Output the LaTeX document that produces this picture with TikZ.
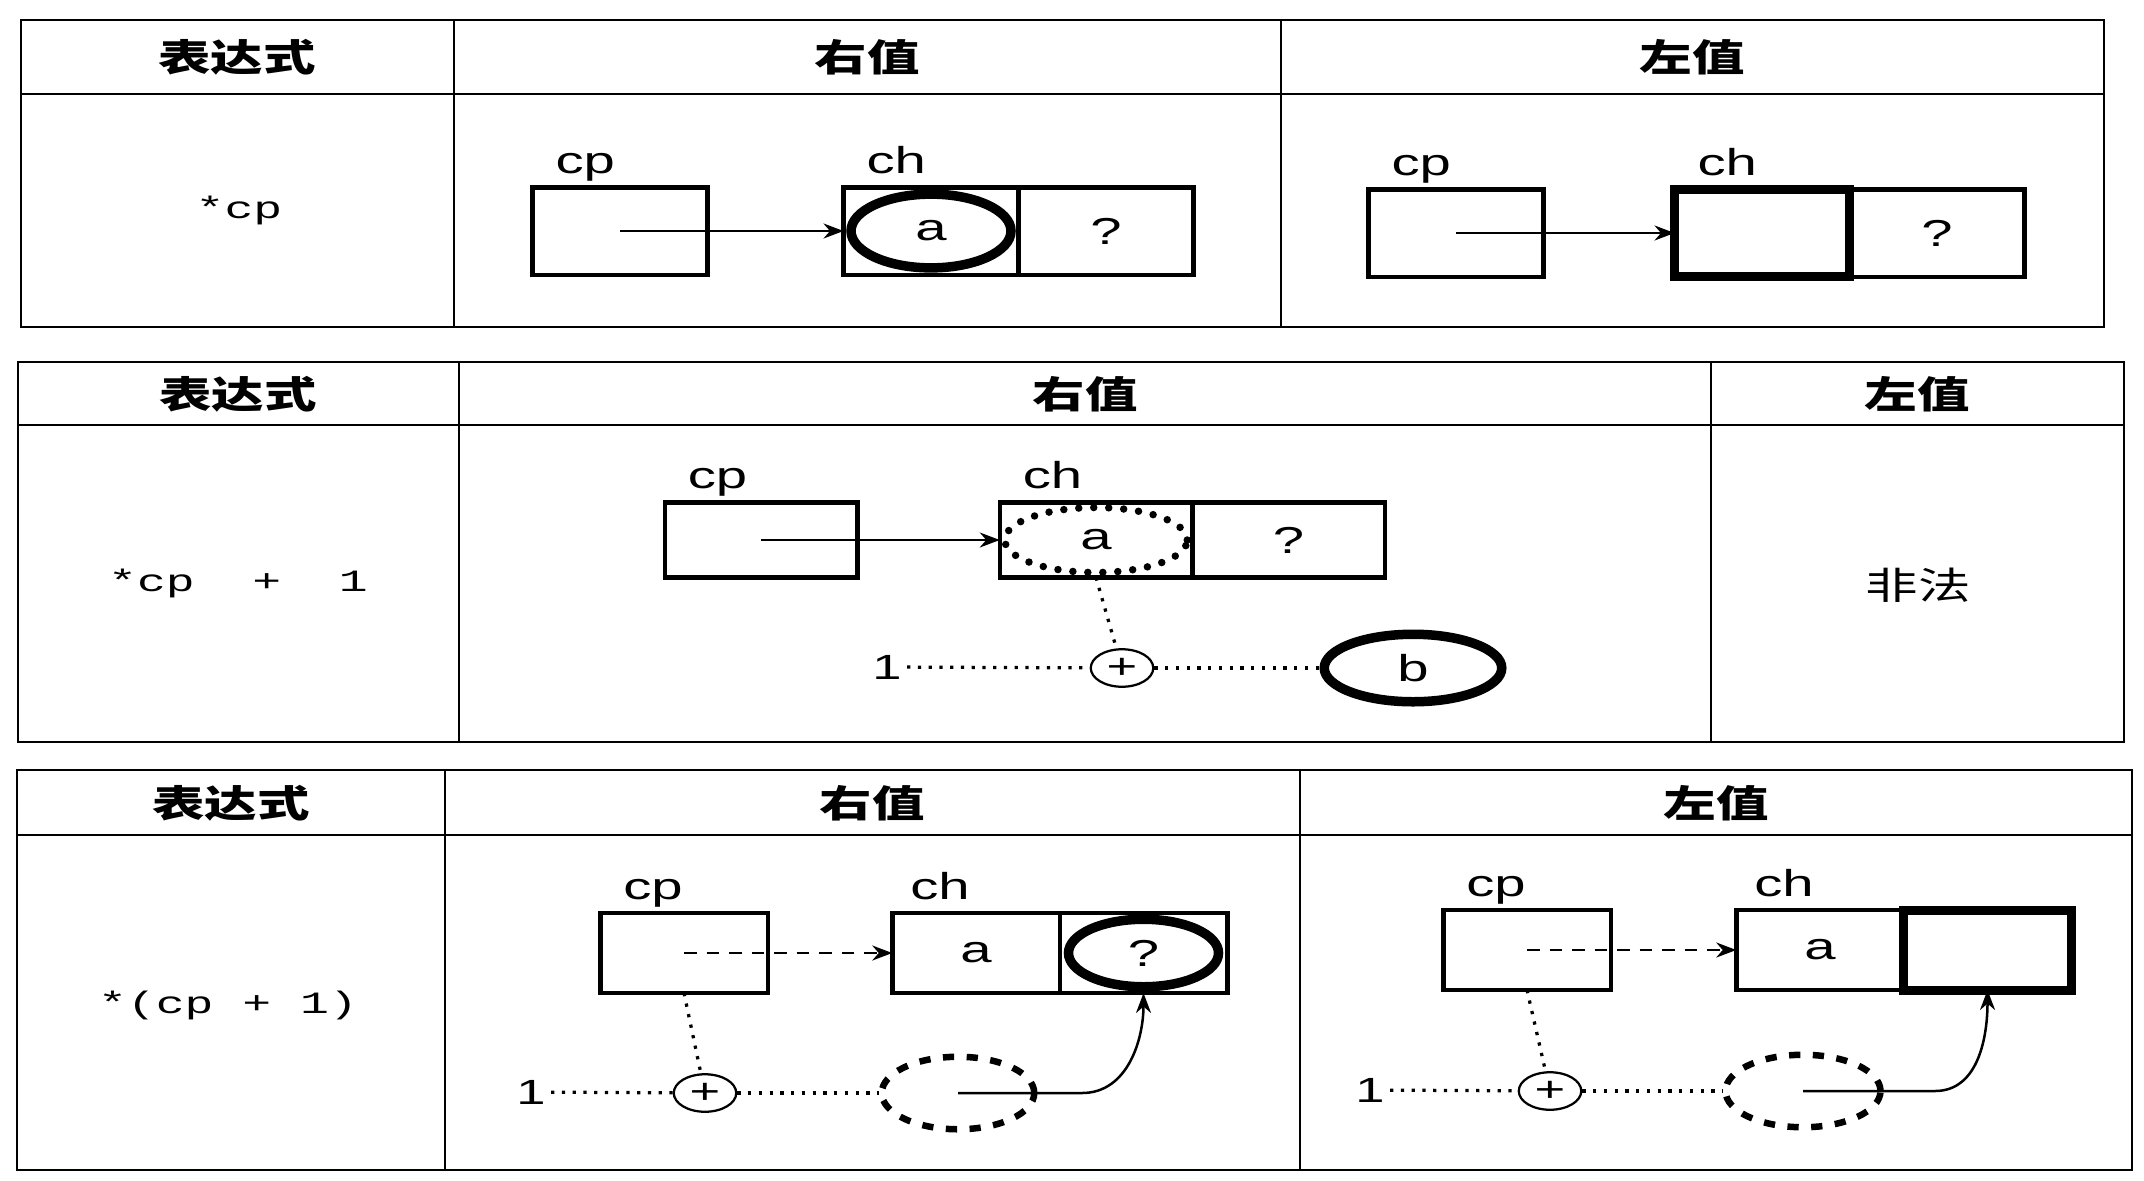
\documentclass[tikz,border=0pt]{standalone}
\usepackage{fontspec}
\setsansfont[FakeStretch=1.5]{Liberation Sans}
\setmonofont[FakeStretch=1.55]{Liberation Mono}
\newfontfamily\cjk[FakeStretch=1.4]{Noto Sans CJK SC}
\usetikzlibrary{positioning, shapes.geometric, arrows.meta}

\tikzset{
  frame/.style={line width=1.1pt},
  head/.style={font=\cjk\bfseries\fontsize{15}{15}\selectfont},
  expr/.style={font=\ttfamily\fontsize{12.4}{12.4}\selectfont},
  tag/.style={font=\sffamily\fontsize{15}{15}\selectfont, anchor=base west, inner sep=0pt},
  cell/.style={draw, line width=1.8pt, inner sep=0pt, outer sep=0pt, font=\sffamily\fontsize{15}{15}\selectfont},
  hot/.style={cell, line width=3.6pt},
  ring/.style={ellipse, draw, line width=3.8pt, inner sep=0pt, font=\sffamily\fontsize{15}{15}\selectfont},
  dotring/.style={ellipse, draw, line width=3pt, line cap=round, dash pattern=on 0pt off 6pt, inner sep=0pt},
  tmpring/.style={ellipse, draw, line width=2.6pt, dash pattern=on 4.5pt off 5pt, inner sep=0pt},
  plusop/.style={ellipse, draw, line width=0.9pt, inner sep=0pt, minimum width=25pt, minimum height=15pt, font=\sffamily\fontsize{14}{14}\selectfont},
  num/.style={font=\sffamily\fontsize{14}{14}\selectfont, inner sep=2pt},
  ptr/.style={-{Stealth[length=8pt,width=6pt]}, line width=1pt},
  dptr/.style={ptr, dash pattern=on 5pt off 4pt},
  dotline/.style={line width=1.3pt, dash pattern=on 1.3pt off 3pt},
}

\begin{document}
\begin{tikzpicture}[x=0.4pt, y=0.4pt]
\useasboundingbox[fill=white] (0,0) rectangle (2144,-1180);

% table 1: *cp
\draw[frame] (21,-20) rectangle (2104,-327);
\draw[frame] (21,-94) -- (2104,-94);
\draw[frame] (454,-20) -- (454,-327);
\draw[frame] (1281,-20) -- (1281,-327);
\node[head] (t1hexp) at (237,-57) {表达式};
\node[head] (t1hr) at (867,-57) {右值};
\node[head] (t1hl) at (1692,-57) {左值};
\node[expr] (t1exp) at (239,-210) {*cp};

\begin{scope}[cell/.append style={minimum width=70pt, minimum height=35pt}]
% rvalue
\node[cell] (t1rcp) at (620,-231) {};
\node[tag] (t1rcpt) at ([shift={(9pt,5.5pt)}]t1rcp.north west) {cp};
\node[cell] (t1rcha) at (931,-231) {a};
\node[cell, right=0pt of t1rcha] (t1rchb) {?};
\node[tag] (t1rcht) at ([shift={(9pt,5.5pt)}]t1rcha.north west) {ch};
\node[ring, minimum width=64pt, minimum height=29.5pt] (t1rring) at (t1rcha.center) {};
\draw[ptr] (t1rcp.center) -- (t1rcha.west);
% lvalue
\node[cell] (t1lcp) at (1456,-233) {};
\node[tag] (t1lcpt) at ([shift={(9pt,5.5pt)}]t1lcp.north west) {cp};
\node[hot] (t1lcha) at (1762,-233) {};
\node[cell, right=0pt of t1lcha] (t1lchb) {?};
\node[tag] (t1lcht) at ([shift={(9pt,5.5pt)}]t1lcha.north west) {ch};
\draw[ptr] (t1lcp.center) -- (t1lcha.west);
\end{scope}

% table 2: *cp + 1
\draw[frame] (18,-362) rectangle (2124,-742);
\draw[frame] (18,-425) -- (2124,-425);
\draw[frame] (459,-362) -- (459,-742);
\draw[frame] (1711,-362) -- (1711,-742);
\node[head] (t2hexp) at (238,-394) {表达式};
\node[head] (t2hr) at (1085,-394) {右值};
\node[head] (t2hl) at (1917,-394) {左值};
\node[expr] (t2exp) at (238,-583) {*cp\ \ +\ \ 1};
\node[font=\cjk\fontsize{15}{15}\selectfont] (t2bad) at (1918,-585) {非法};

\begin{scope}[cell/.append style={minimum width=77pt, minimum height=30pt}]
\node[cell] (t2cp) at (761,-540) {};
\node[tag] (t2cpt) at ([shift={(9pt,5.5pt)}]t2cp.north west) {cp};
\node[cell] (t2cha) at (1096,-540) {a};
\node[cell, right=0pt of t2cha] (t2chb) {?};
\node[tag] (t2cht) at ([shift={(9pt,5.5pt)}]t2cha.north west) {ch};
\node[dotring, minimum width=73pt, minimum height=26pt] (t2ring) at (t2cha.center) {};
\draw[ptr] (t2cp.center) -- (t2cha.west);
\end{scope}
\node[num] (t2one) at (887,-667) {1};
\node[plusop] (t2plus) at (1122,-668) {+};
\node[ring, minimum width=71pt, minimum height=27pt] (t2b) at (1413,-668) {b};
\draw[dotline] (t2one) -- (t2plus);
\draw[dotline] (t2plus) -- (t2b);
\draw[dotline] (t2cha.south) -- (t2plus);

% table 3: *(cp + 1)
\draw[frame] (17,-770) rectangle (2132,-1170);
\draw[frame] (17,-835) -- (2132,-835);
\draw[frame] (445,-770) -- (445,-1170);
\draw[frame] (1300,-770) -- (1300,-1170);
\node[head] (t3hexp) at (231,-803) {表达式};
\node[head] (t3hr) at (872,-803) {右值};
\node[head] (t3hl) at (1716,-803) {左值};
\node[expr] (t3exp) at (228,-1005) {*(cp + 1)};

\begin{scope}[cell/.append style={minimum width=67pt, minimum height=32pt}]
% rvalue
\node[cell] (t3rcp) at (684,-953) {};
\node[tag] (t3rcpt) at ([shift={(9pt,5.5pt)}]t3rcp.north west) {cp};
\node[cell] (t3rcha) at (976,-953) {a};
\node[cell, right=0pt of t3rcha] (t3rchb) {?};
\node[tag] (t3rcht) at ([shift={(7pt,5.5pt)}]t3rcha.north west) {ch};
\node[ring, minimum width=60pt, minimum height=27pt] (t3rring) at (t3rchb.center) {};
\draw[dptr] (t3rcp.center) -- (t3rcha.west);
% lvalue
\node[cell] (t3lcp) at (1527,-950) {};
\node[tag] (t3lcpt) at ([shift={(9pt,5.5pt)}]t3lcp.north west) {cp};
\node[cell] (t3lcha) at (1820,-950) {a};
\node[hot, right=0pt of t3lcha] (t3lchb) {};
\node[tag] (t3lcht) at ([shift={(7pt,5.5pt)}]t3lcha.north west) {ch};
\draw[dptr] (t3lcp.center) -- (t3lcha.west);
\end{scope}

\node[num] (t3rone) at (531,-1092) {1};
\node[plusop] (t3rplus) at (705,-1093) {+};
\node[tmpring, minimum width=61pt, minimum height=29pt] (t3rtmp) at (958,-1093) {};
\draw[dotline] (t3rone) -- (t3rplus);
\draw[dotline] (t3rplus) -- (t3rtmp);
\draw[dotline] (t3rcp.south) -- (t3rplus);
\draw[ptr] (t3rtmp.center) -- ++(124,0) to[out=0,in=-90] (t3rchb.south);

\node[num] (t3lone) at (1370,-1090) {1};
\node[plusop] (t3lplus) at (1550,-1091) {+};
\node[tmpring, minimum width=62pt, minimum height=29pt] (t3ltmp) at (1803,-1091) {};
\draw[dotline] (t3lone) -- (t3lplus);
\draw[dotline] (t3lplus) -- (t3ltmp);
\draw[dotline] (t3lcp.south) -- (t3lplus);
\draw[ptr] (t3ltmp.center) -- ++(132,0) to[out=0,in=-90] (t3lchb.south);

\end{tikzpicture}
\end{document}
